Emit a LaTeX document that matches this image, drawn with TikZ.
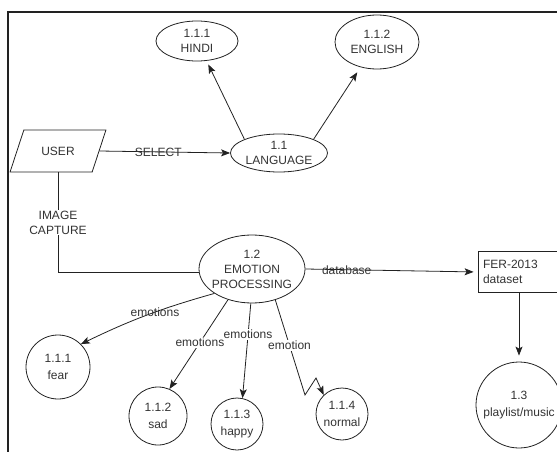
\documentclass[tikz,border=0pt]{standalone}
\usepackage{fontspec}
\setmainfont{Liberation Sans}
\usetikzlibrary{arrows.meta,shapes.geometric}
\definecolor{inkgray}{HTML}{222222}
\definecolor{textgray}{HTML}{333333}

\begin{document}
\begin{tikzpicture}[x=1pt,y=-1pt,>=Stealth,
  every node/.style={font=\fontsize{12}{15}\selectfont,text=textgray},
  flow/.style={draw=inkgray,line width=.8pt},
  tip/.style={-{Stealth[length=9pt,width=7pt,inset=2pt]}},
  proc/.style={ellipse,draw=inkgray,line width=.8pt,inner xsep=-10pt,inner ysep=-3pt,align=center},
  bubble/.style={circle,draw=inkgray,line width=.8pt,inner sep=-8pt,align=center,font=\fontsize{12}{16.5}\selectfont},
  lbl/.style={fill=white,inner sep=1pt}]
 \clip (0,0) rectangle (557,452);
 \draw[line width=1.6pt,inkgray] (8,470)--(8,12)--(570,12);
 \node[trapezium,trapezium stretches=true,trapezium left angle=62,trapezium right angle=118,
   draw=inkgray,line width=.8pt,minimum width=96pt,minimum height=42pt] (user) at (58,151) {USER};
 \node[proc,minimum width=97pt,minimum height=38pt] (lang) at (279,153) {1.1\\LANGUAGE};
 \node[proc,minimum width=82pt,minimum height=40pt] (hindi) at (197,41) {1.1.1\\HINDI};
 \node[proc,minimum width=84pt,minimum height=54pt] (english) at (377,42) {1.1.2\\ENGLISH};
 \node[proc,minimum width=106pt,minimum height=68pt] (emo) at (252,269) {1.2\\EMOTION\\PROCESSING};
 \node[draw=inkgray,line width=.8pt,text width=90pt,align=left,inner sep=5pt,minimum height=41pt] (fer) at (528,272) {FER-2013\\dataset};
 \node[bubble,minimum size=64pt] (fear) at (58,367) {1.1.1\\fear};
 \node[bubble,minimum size=58pt] (sad) at (158,416) {1.1.2\\sad};
 \node[bubble,minimum size=52pt] (happy) at (237,424) {1.1.3\\happy};
 \node[bubble,minimum size=52pt] (normal) at (342,414) {1.1.4\\normal};
 \node[bubble,minimum size=86pt] (play) at (519,405) {1.3\\playlist/music};
 \coordinate (zigA) at (305,395);
 \coordinate (zigB) at (316,378);
 \draw[flow,tip] (user.east)--node[pos=.45] {SELECT} (lang.west);
 \draw[flow,tip,shorten >=4pt] (lang.north west)--(hindi);
 \draw[flow,tip,shorten >=6pt] (lang.north east)--(english);
 \draw[flow] (user.south) |- node[pos=.25,lbl,align=center] {IMAGE\\CAPTURE} (emo.184);
 \draw[flow,tip,shorten >=4pt] (emo.east)--node[pos=.24] {database} (fer.west);
 \draw[flow,tip,shorten >=6pt] (fer.south -| play.north)--(play.north);
 \draw[flow,tip] (emo.213) to[bend right=5] node[pos=.43] {emotions} (fear.45);
 \draw[flow,tip] (emo.232)--node[pos=.48,lbl] {emotions} (sad.67);
 \draw[flow,tip] (emo.268)--node[pos=.33,lbl] {emotions} (happy.78);
 \draw[flow,tip] (emo.307)--node[pos=.48,lbl] {emotion} (zigA)--(zigB)--(normal.134);
\end{tikzpicture}
\end{document}
